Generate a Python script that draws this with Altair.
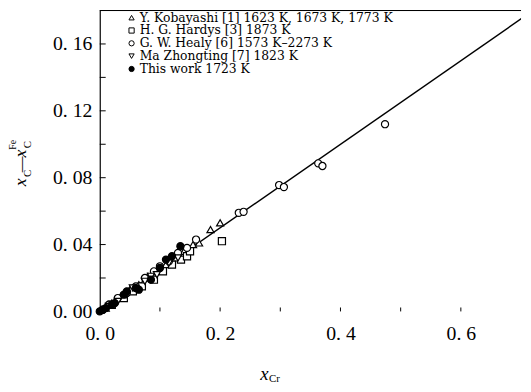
import altair as alt
import pandas as pd

# ---------------- data ----------------
series_names = [
    "Y. Kobayashi [1]  1623 K, 1673 K, 1773 K",
    "H. G. Hardys [3]  1873 K",
    "G. W. Healy [6]  1573 K\u20132273 K",
    "Ma Zhongting [7]  1823 K",
    "This work 1723 K",
]

kob_x = [0.01, 0.02, 0.035, 0.05, 0.065, 0.08, 0.095, 0.11, 0.125, 0.14, 0.155, 0.165, 0.184, 0.200]
kob_y = [0.002, 0.005, 0.009, 0.013, 0.016, 0.021, 0.024, 0.028, 0.032, 0.036, 0.040, 0.041, 0.049, 0.053]

har_x = [0.02, 0.04, 0.055, 0.07, 0.09, 0.105, 0.12, 0.135, 0.145, 0.150, 0.203]
har_y = [0.004, 0.008, 0.012, 0.015, 0.019, 0.024, 0.028, 0.031, 0.033, 0.036, 0.042]

hea_x = [0.005, 0.015, 0.03, 0.045, 0.06, 0.075, 0.09, 0.10, 0.115, 0.13, 0.145, 0.160,
         0.231, 0.239, 0.298, 0.306, 0.363, 0.370, 0.474]
hea_y = [0.001, 0.004, 0.008, 0.011, 0.015, 0.020, 0.024, 0.027, 0.030, 0.035, 0.038, 0.043,
         0.059, 0.0596, 0.0756, 0.0744, 0.0886, 0.087, 0.112]

ma_x = [0.015, 0.03, 0.045, 0.055, 0.075, 0.085, 0.095, 0.115, 0.13]
ma_y = [0.003, 0.006, 0.010, 0.014, 0.018, 0.021, 0.022, 0.029, 0.032]

tw_x = [0.0, 0.005, 0.01, 0.02, 0.025, 0.04, 0.045, 0.06, 0.065, 0.085, 0.10, 0.11, 0.12, 0.134]
tw_y = [0.0, 0.001, 0.002, 0.004, 0.005, 0.010, 0.012, 0.014, 0.013, 0.019, 0.026, 0.031, 0.033, 0.039]

fit_x = [0.0, 0.72]
fit_y = [0.0, 0.18]

y_minor_ticks = [0.02, 0.04, 0.06, 0.08, 0.10, 0.12, 0.14, 0.16]
x_minor_ticks = [0.1, 0.2, 0.3, 0.4, 0.5, 0.6]
y_labels = [0.0, 0.04, 0.08, 0.12, 0.16]
x_labels = [0.0, 0.2, 0.4, 0.6]

# ---------------- tables ----------------
rows = []
for name, xs, ys in zip(series_names,
                        [kob_x, har_x, hea_x, ma_x, tw_x],
                        [kob_y, har_y, hea_y, ma_y, tw_y]):
    for a, b in zip(xs, ys):
        rows.append({"series": name, "x": a, "y": b})
pts = pd.DataFrame(rows)
fit = pd.DataFrame({"x": fit_x, "y": fit_y})
ytk = pd.DataFrame({"v": y_minor_ticks})
xtk = pd.DataFrame({"v": x_minor_ticks})

W, H = 427, 305
FONT = "Liberation Serif"
LFONT = "DejaVu Serif"

xscale = alt.Scale(domain=[0, 0.7], nice=False)
yscale = alt.Scale(domain=[0, 0.18], nice=False)

xaxis = alt.Axis(values=x_labels, labelExpr="replace(format(datum.value, '.1f'), '.', '. ')",
                 domain=False, ticks=False, grid=False, title=None, labelFlush=False,
                 labelFont=FONT, labelFontSize=20, labelColor="black", labelPadding=12)
yaxis = alt.Axis(values=y_labels, labelExpr="replace(format(datum.value, '.2f'), '.', '. ')",
                 domain=True, domainColor="black", domainWidth=1.2, ticks=False, grid=False,
                 labelFlush=False,
                 title=None, labelFont=FONT, labelFontSize=20, labelColor="black", labelPadding=8)

line = alt.Chart(fit).mark_line(color="black", strokeWidth=1.4, clip=True).encode(
    x=alt.X("x:Q", scale=xscale, axis=xaxis), y=alt.Y("y:Q", scale=yscale, axis=yaxis))

leg = alt.Legend(title=None, orient="none", legendX=26, legendY=1,
                 labelFont=LFONT, labelFontSize=12.5, labelColor="black",
                 symbolSize=28, symbolStrokeWidth=1,
                 rowPadding=-1, labelOffset=2, labelLimit=420)

points = alt.Chart(pts).mark_point(filled=True, strokeWidth=1.2, size=52, opacity=1).encode(
    x=alt.X("x:Q", scale=xscale),
    y=alt.Y("y:Q", scale=yscale),
    shape=alt.Shape("series:N", sort=series_names,
                    scale=alt.Scale(domain=series_names,
                                    range=["triangle-up", "square", "circle", "triangle-down", "circle"]),
                    legend=leg),
    fill=alt.Fill("series:N", sort=series_names,
                  scale=alt.Scale(domain=series_names,
                                  range=["white", "white", "white", "white", "black"]),
                  legend=leg),
    stroke=alt.Stroke("series:N", sort=series_names,
                      scale=alt.Scale(domain=series_names,
                                      range=["black", "black", "black", "black", "black"]),
                      legend=leg),
)

yticks = alt.Chart(ytk).mark_rule(color="black", strokeWidth=1).encode(
    y=alt.Y("v:Q", scale=yscale), x=alt.value(0), x2=alt.value(6))
xticks = alt.Chart(xtk).mark_rule(color="black", strokeWidth=1).encode(
    x=alt.X("v:Q", scale=xscale), y=alt.value(H), y2=alt.value(H - 4))
topline = alt.Chart(fit).mark_rule(color="black", strokeWidth=1).encode(
    x=alt.value(0), x2=alt.value(W), y=alt.value(0))

# axis titles as text pieces
def txt(s, x, y, size, angle=0, italic=False):
    return alt.Chart(pd.DataFrame({"t": [s]})).mark_text(
        font=FONT, fontSize=size, fontStyle="italic" if italic else "normal",
        angle=angle, align="center", baseline="middle", color="black"
    ).encode(text="t:N", x=alt.value(x), y=alt.value(y))

ox, oy = 101, 8
titles = [
    txt("x", 268 - ox, 377 - oy, 19, italic=True),
    txt("Cr", 278 - ox, 382 - oy, 11),
    txt("x", 21 - ox, 182 - oy, 18, angle=270, italic=True),
    txt("C", 28 - ox, 173 - oy, 11, angle=270),
    txt("\u2014", 21 - ox, 164 - oy, 16, angle=270),
    txt("x", 21 - ox, 153 - oy, 18, angle=270, italic=True),
    txt("C", 28 - ox, 144 - oy, 11, angle=270),
    txt("Fe", 13 - ox, 144 - oy, 10, angle=270),
]

chart = alt.layer(line, xticks, yticks, topline, points, *titles).properties(
    width=W, height=H,
    padding={"left": 93, "top": 0, "right": 2, "bottom": 71},
    autosize=alt.AutoSizeParams(type="none"),
    background="white",
).configure_view(stroke=None)

chart.save("out.html", embed_options={"renderer": "svg", "actions": False})
